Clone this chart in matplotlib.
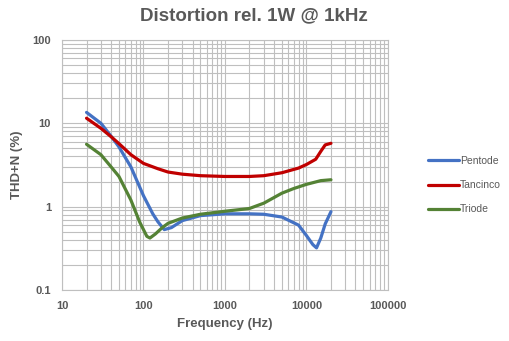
import matplotlib
matplotlib.use("Agg")
import matplotlib.pyplot as plt
from matplotlib.ticker import LogLocator, FuncFormatter, NullFormatter

plt.rcParams["font.family"] = ["Liberation Sans", "DejaVu Sans"]

# Data (frequency in Hz, THD+N in %)
pentode_f = [20, 30, 40, 50, 70, 100, 130, 150, 180, 220, 300, 500, 1000, 2000, 3000,
             5000, 8000, 10000, 12000, 13300, 15000, 17000, 20000]
pentode_v = [13.5, 10.0, 7.0, 5.2, 3.0, 1.35, 0.82, 0.66, 0.53, 0.56, 0.68, 0.78, 0.82,
             0.82, 0.81, 0.75, 0.6, 0.45, 0.35, 0.32, 0.42, 0.62, 0.87]

tancinco_f = [20, 30, 40, 50, 70, 100, 150, 200, 300, 500, 1000, 2000, 3000, 5000,
              8000, 10000, 13000, 15000, 17000, 20000]
tancinco_v = [11.5, 8.7, 6.9, 5.7, 4.2, 3.3, 2.85, 2.6, 2.45, 2.35, 2.3, 2.3, 2.35, 2.55,
              2.9, 3.2, 3.7, 4.6, 5.5, 5.75]

triode_f = [20, 30, 40, 50, 70, 90, 110, 120, 140, 170, 200, 300, 500, 1000, 2000, 3000,
            5000, 7000, 10000, 15000, 20000]
triode_v = [5.6, 4.2, 3.0, 2.3, 1.2, 0.65, 0.44, 0.42, 0.47, 0.56, 0.63, 0.73, 0.81,
            0.88, 0.95, 1.1, 1.45, 1.65, 1.85, 2.05, 2.1]

fig = plt.figure(figsize=(5.10, 3.41), dpi=100)
ax = fig.add_axes([0.1216, 0.1496, 0.639, 0.7334])

ax.plot(pentode_f, pentode_v, color="#4472C4", lw=2.3, label="Pentode", solid_capstyle="round")
ax.plot(tancinco_f, tancinco_v, color="#C00000", lw=2.3, label="Tancinco", solid_capstyle="round")
ax.plot(triode_f, triode_v, color="#548235", lw=2.3, label="Triode", solid_capstyle="round")

ax.set_xscale("log")
ax.set_yscale("log")
ax.set_xlim(10, 100000)
ax.set_ylim(0.1, 100)

ax.xaxis.set_major_locator(LogLocator(base=10))
ax.yaxis.set_major_locator(LogLocator(base=10))
ax.xaxis.set_minor_locator(LogLocator(base=10, subs=range(2, 10)))
ax.yaxis.set_minor_locator(LogLocator(base=10, subs=range(2, 10)))
fmt = FuncFormatter(lambda v, _: f"{v:g}")
ax.xaxis.set_major_formatter(fmt)
ax.yaxis.set_major_formatter(fmt)
ax.xaxis.set_minor_formatter(NullFormatter())
ax.yaxis.set_minor_formatter(NullFormatter())

ax.grid(True, which="both", color="#BFBFBF", lw=0.8)
ax.set_axisbelow(True)
for s in ax.spines.values():
    s.set_color("#BFBFBF")
    s.set_linewidth(0.8)
ax.tick_params(which="both", length=0, colors="#595959", labelsize=8)
ax.tick_params(axis="x", pad=8)
ax.tick_params(axis="y", pad=8)
for lbl in ax.get_xticklabels() + ax.get_yticklabels():
    lbl.set_fontweight("bold")

ax.set_xlabel("Frequency (Hz)", fontsize=9.5, fontweight="bold", color="#595959", labelpad=5)
ax.set_ylabel("THD+N (%)", fontsize=9.5, fontweight="bold", color="#595959", labelpad=7)
fig.suptitle("Distortion rel. 1W @ 1kHz", x=0.497, y=0.98, fontsize=13.5,
             fontweight="bold", color="#595959")

leg = ax.legend(loc="center left", bbox_to_anchor=(1.123, 0.419), frameon=False,
                fontsize=7.5, handlelength=3.0, handletextpad=0.1, labelspacing=1.35,
                borderpad=0, borderaxespad=0)
for t in leg.get_texts():
    t.set_color("#595959")

fig.savefig("out.png", dpi=100)
